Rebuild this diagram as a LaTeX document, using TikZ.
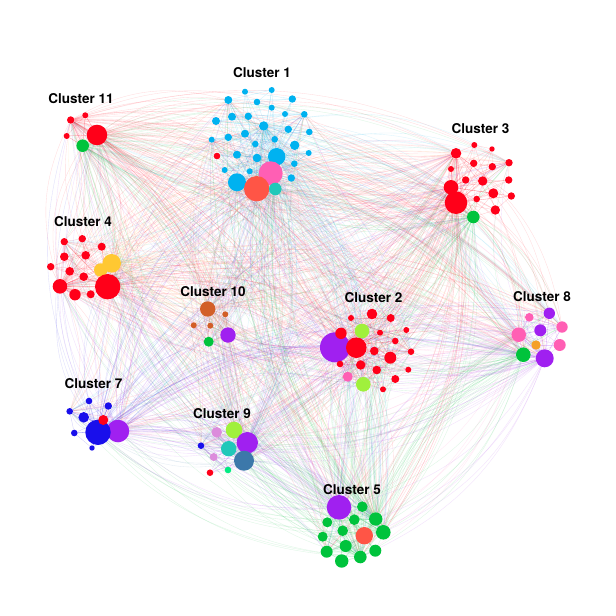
\documentclass[tikz,border=0pt]{standalone}
\usepackage{fontspec}
\setmainfont{TeX Gyre Heros}
\pgfdeclarelayer{edges}
\pgfsetlayers{edges,main}
\definecolor{cBlue}{RGB}{0,178,240}
\definecolor{cRed}{RGB}{255,0,25}
\definecolor{cTomato}{RGB}{255,85,70}
\definecolor{cPink}{RGB}{255,95,180}
\definecolor{cTeal}{RGB}{32,200,185}
\definecolor{cGreen}{RGB}{0,195,60}
\definecolor{cYellow}{RGB}{255,200,50}
\definecolor{cOrangeJ}{RGB}{210,95,40}
\definecolor{cPurple}{RGB}{160,32,240}
\definecolor{cLime}{RGB}{160,240,60}
\definecolor{cOrangeH}{RGB}{245,160,40}
\definecolor{cBlueD}{RGB}{25,15,235}
\definecolor{cPlum}{RGB}{220,140,220}
\definecolor{cSteel}{RGB}{60,120,170}
\definecolor{cSpring}{RGB}{0,235,130}
\tikzset{
  dot/.style={circle,inner sep=0pt,draw=none},
  lbl/.style={font=\bfseries\fontsize{13.5}{15}\selectfont,text=black,inner sep=0pt},
  ed/.style={line width=0.35pt,opacity=0.14},
  inn/.style={line width=0.3pt,opacity=0.22}
}
\newcommand\nd[5]{\node[dot,fill=#4,minimum size=#5*2pt] (#1) at (#2,#3) {};}
\newcommand\intra[5]{%
 \foreach \i in {1,...,#2}{
   \ifnum\i=#3\else \draw[inn,draw=#5] (#1\i) -- (#1#3);\fi
   \ifnum\i=#4\else \draw[inn,draw=#5] (#1\i) -- (#1#4);\fi
   \pgfmathtruncatemacro\jj{mod(\i,#2)+1}
   \draw[inn,draw=#5] (#1\i) -- (#1\jj);
   \pgfmathtruncatemacro\jj{mod(\i+2,#2)+1}
   \draw[inn,draw=#5] (#1\i) -- (#1\jj);
 }}
\def\alltargets{a3,a12,a24,a31,a32,a33,a8,a16,a29,k4,k5,k1,c12,c11,c17,c7,c1,d14,d10,d11,d1,j1,j5,j6,b8,b9,b5,b19,b12,b13,h5,h8,h9,h1,h3,g5,g6,g2,i5,i7,i2,i3,e1,e3,e8,e13,e11}
\begin{document}
\begin{tikzpicture}[x=1pt,y=-1pt]
\useasboundingbox (0,0) rectangle (616,616);
% ---- Cluster 1
\nd{a1}{245}{91.7}{cBlue}{3}
\nd{a2}{271.7}{90}{cBlue}{3}
\nd{a3}{228.3}{100}{cBlue}{4}
\nd{a4}{292.3}{99}{cBlue}{3.7}
\nd{a5}{257}{102}{cBlue}{3.3}
\nd{a6}{271.7}{107.7}{cBlue}{3}
\nd{a7}{285}{114}{cBlue}{3}
\nd{a8}{304.3}{114.3}{cBlue}{3.3}
\nd{a9}{232}{116.7}{cBlue}{4}
\nd{a10}{248.3}{116.3}{cBlue}{3.7}
\nd{a11}{216}{121}{cBlue}{4}
\nd{a12}{263.7}{126}{cBlue}{4.7}
\nd{a13}{288.3}{129.3}{cBlue}{3.7}
\nd{a14}{309.3}{132}{cBlue}{3.3}
\nd{a15}{245}{133.7}{cBlue}{4}
\nd{a16}{211.7}{139.7}{cBlue}{3}
\nd{a17}{228.3}{137.3}{cBlue}{3.7}
\nd{a18}{255.3}{144}{cBlue}{3.3}
\nd{a19}{274.7}{139.3}{cBlue}{3.3}
\nd{a20}{294.7}{145.3}{cBlue}{4.7}
\nd{a21}{217}{156}{cRed}{3.3}
\nd{a22}{237}{154.7}{cBlue}{4}
\nd{a23}{257}{158}{cBlue}{4.3}
\nd{a24}{276.7}{156.7}{cBlue}{8.7}
\nd{a25}{308.7}{153}{cBlue}{3}
\nd{a26}{224.7}{170}{cBlue}{3}
\nd{a27}{249.7}{171.3}{cBlue}{3}
\nd{a28}{294.3}{163.7}{cBlue}{3.3}
\nd{a30}{291.3}{178}{cBlue}{3.7}
\nd{a31}{237}{182.3}{cBlue}{9}
\nd{a29}{270.7}{173.3}{cPink}{12}
\nd{a32}{256.7}{188.7}{cTomato}{12.7}
\nd{a33}{275.3}{189}{cTeal}{6.3}
% ---- Cluster 11
\nd{k1}{70.7}{120}{cRed}{3.7}
\nd{k2}{85.3}{115.3}{cRed}{3}
\nd{k3}{66.7}{136}{cRed}{3}
\nd{k4}{97}{135}{cRed}{10.3}
\nd{k5}{82.7}{145.7}{cGreen}{6.3}
% ---- Cluster 3
\nd{c1}{456}{153.3}{cRed}{5.3}
\nd{c2}{474.3}{145}{cRed}{3}
\nd{c3}{492}{149}{cRed}{2.7}
\nd{c4}{451}{169}{cRed}{3}
\nd{c5}{473.7}{163.3}{cRed}{3.7}
\nd{c6}{492.3}{166.7}{cRed}{3.7}
\nd{c7}{509}{162.7}{cRed}{3.7}
\nd{c8}{465.7}{180}{cRed}{3.7}
\nd{c9}{482.7}{181}{cRed}{4.7}
\nd{c10}{508.7}{180}{cRed}{3.7}
\nd{c11}{451}{187.3}{cRed}{7.3}
\nd{c12}{456}{202.7}{cRed}{11.3}
\nd{c13}{476.7}{199}{cRed}{3.3}
\nd{c14}{493.3}{193.3}{cRed}{5}
\nd{c15}{511.3}{196}{cRed}{3.7}
\nd{c16}{495.3}{210}{cRed}{4.7}
\nd{c17}{473.3}{217}{cGreen}{6.3}
% ---- Cluster 4
\nd{d1}{64.3}{241.7}{cRed}{3.7}
\nd{d2}{82.3}{238.7}{cRed}{3.7}
\nd{d3}{101.7}{246.7}{cRed}{4}
\nd{d4}{64.3}{256.7}{cRed}{4.3}
\nd{d5}{85.7}{255.3}{cRed}{4.3}
\nd{d6}{50.7}{266.7}{cRed}{3.7}
\nd{d7}{69.7}{271.3}{cRed}{4.3}
\nd{d8}{83.7}{276.7}{cRed}{4.3}
\nd{d10}{111.7}{263.3}{cYellow}{9.3}
\nd{d9}{100.7}{270}{cYellow}{6.7}
\nd{d11}{60}{286.3}{cRed}{7.3}
\nd{d12}{75}{294.7}{cRed}{5.7}
\nd{d13}{90.7}{294.3}{cRed}{4}
\nd{d14}{107.7}{286.7}{cRed}{12.7}
% ---- Cluster 10
\nd{j1}{207.7}{309}{cOrangeJ}{7.7}
\nd{j2}{225.3}{314.3}{cOrangeJ}{3}
\nd{j3}{193.7}{325.3}{cOrangeJ}{3}
\nd{j4}{210.3}{325.7}{cOrangeJ}{3}
\nd{j5}{228}{335}{cPurple}{7.7}
\nd{j6}{208.7}{341.7}{cGreen}{5}
% ---- Cluster 2
\nd{b8}{335}{347.3}{cPurple}{15}
\nd{b1}{372}{314}{cRed}{5.3}
\nd{b2}{351}{318}{cRed}{3}
\nd{b3}{390.7}{318}{cRed}{4}
\nd{b4}{341}{333.3}{cRed}{5.7}
\nd{b5}{362}{331}{cLime}{7.3}
\nd{b6}{380}{332.7}{cRed}{3}
\nd{b7}{406.3}{330}{cRed}{3}
\nd{b9}{356.3}{347.7}{cRed}{10.3}
\nd{b10}{374.3}{351}{cRed}{4.3}
\nd{b11}{395.3}{341}{cRed}{3.3}
\nd{b12}{390.3}{357.7}{cRed}{6}
\nd{b13}{411}{351.7}{cRed}{3.3}
\nd{b14}{340}{364}{cRed}{3.3}
\nd{b15}{360.7}{365}{cRed}{4.7}
\nd{b16}{376.7}{370}{cRed}{4.3}
\nd{b17}{408.3}{369.7}{cRed}{3}
\nd{b18}{347.7}{376.7}{cPink}{5}
\nd{b19}{363.3}{384.3}{cLime}{7.3}
\nd{b20}{395.3}{379}{cRed}{4}
\nd{b21}{383}{389.3}{cRed}{3}
% ---- Cluster 8
\nd{h1}{549.3}{313.3}{cPurple}{5.7}
\nd{h2}{529.3}{317.3}{cPink}{4.3}
\nd{h3}{562}{327}{cPink}{5.7}
\nd{h4}{540.3}{330.3}{cPurple}{6}
\nd{h5}{518.7}{334.7}{cPink}{7.3}
\nd{h6}{536}{345}{cOrangeH}{4.7}
\nd{h7}{559.7}{345}{cPink}{6}
\nd{h8}{523.3}{354.7}{cGreen}{7.3}
\nd{h9}{544.7}{358.3}{cPurple}{9}
% ---- Cluster 7
\nd{g1}{89}{401}{cBlueD}{3.3}
\nd{g2}{69.7}{411.3}{cBlueD}{3.3}
\nd{g3}{108.3}{406}{cBlueD}{3.7}
\nd{g4}{83.7}{417.3}{cBlueD}{5.3}
\nd{g5}{118}{431}{cPurple}{11.3}
\nd{g6}{98}{432.3}{cBlueD}{12.7}
\nd{g7}{103.3}{420}{cRed}{5}
\nd{g8}{74.3}{433}{cBlueD}{3.3}
\nd{g9}{92}{448}{cBlueD}{2.7}
% ---- Cluster 9
\nd{i1}{216.7}{432.3}{cPlum}{5.3}
\nd{i2}{234}{430}{cLime}{8.3}
\nd{i3}{201}{445.7}{cBlueD}{3.3}
\nd{i4}{228.7}{448.7}{cTeal}{7.7}
\nd{i5}{247.3}{442.7}{cPurple}{10.7}
\nd{i6}{213.7}{457}{cPlum}{4}
\nd{i7}{244}{460.7}{cSteel}{10}
\nd{i8}{210}{472.7}{cRed}{3.3}
\nd{i9}{228}{470}{cSpring}{3.3}
% ---- Cluster 5
\nd{e1}{339}{507.3}{cPurple}{12.3}
\nd{e2}{362.3}{506.7}{cGreen}{5.3}
\nd{e3}{375.7}{519}{cGreen}{6.7}
\nd{e4}{354.3}{519.7}{cGreen}{5.3}
\nd{e5}{327.3}{522.3}{cGreen}{5}
\nd{e6}{342.7}{530.7}{cGreen}{5.3}
\nd{e7}{364.3}{535.7}{cTomato}{8.7}
\nd{e8}{383.3}{532.3}{cGreen}{7.3}
\nd{e9}{322.7}{536.7}{cGreen}{5}
\nd{e10}{345.7}{546}{cGreen}{6}
\nd{e11}{326.7}{551.7}{cGreen}{6}
\nd{e12}{375.3}{550.7}{cGreen}{6}
\nd{e13}{360.3}{557}{cGreen}{6.3}
\nd{e14}{341.7}{561}{cGreen}{6.7}
% ---- labels
\node[lbl] (L1) at (262,73) {Cluster 1};
\node[lbl] (L11) at (81,99) {Cluster 11};
\node[lbl] (L3) at (480.5,129) {Cluster 3};
\node[lbl] (L4) at (83,221.7) {Cluster 4};
\node[lbl] (L10) at (213,291.7) {Cluster 10};
\node[lbl] (L2) at (373.5,297.3) {Cluster 2};
\node[lbl] (L8) at (542,296.7) {Cluster 8};
\node[lbl] (L7) at (93.5,384) {Cluster 7};
\node[lbl] (L9) at (222,413.3) {Cluster 9};
\node[lbl] (L5) at (352,489.3) {Cluster 5};
% ---- edges
\begin{pgfonlayer}{edges}
\fill[white] (0,0) rectangle (616,616);
\intra{a}{33}{24}{32}{cBlue}
\intra{k}{5}{4}{5}{cRed}
\intra{c}{17}{12}{11}{cRed}
\intra{d}{14}{14}{11}{cRed}
\intra{j}{6}{1}{5}{cOrangeJ}
\intra{b}{21}{9}{8}{cRed}
\intra{h}{9}{9}{5}{cPurple}
\intra{g}{9}{6}{5}{cBlueD}
\intra{i}{9}{5}{7}{cPurple}
\intra{e}{14}{1}{7}{cGreen}
\foreach \s/\c in {k4/cRed,d14/cRed,c12/cRed,b9/cRed,c11/cRed,d11/cRed,k1/cRed,c1/cRed,
  a24/cBlue,a31/cBlue,a12/cBlue,
  e3/cGreen,e8/cGreen,e13/cGreen,h8/cGreen,c17/cGreen,k5/cGreen,
  b8/cPurple,e1/cPurple,h9/cPurple,g5/cPurple,i5/cPurple,
  a29/cPink,h5/cPink,a32/cTomato,j1/cOrangeJ,d10/cYellow,
  g6/cBlueD,i7/cSteel,a33/cTeal}{
  \foreach \t in \alltargets {
    \ifx\s\t\else\draw[ed,draw=\c] (\s) to[bend left=22] (\t);\fi
  }
}
\end{pgfonlayer}
\end{tikzpicture}
\end{document}
